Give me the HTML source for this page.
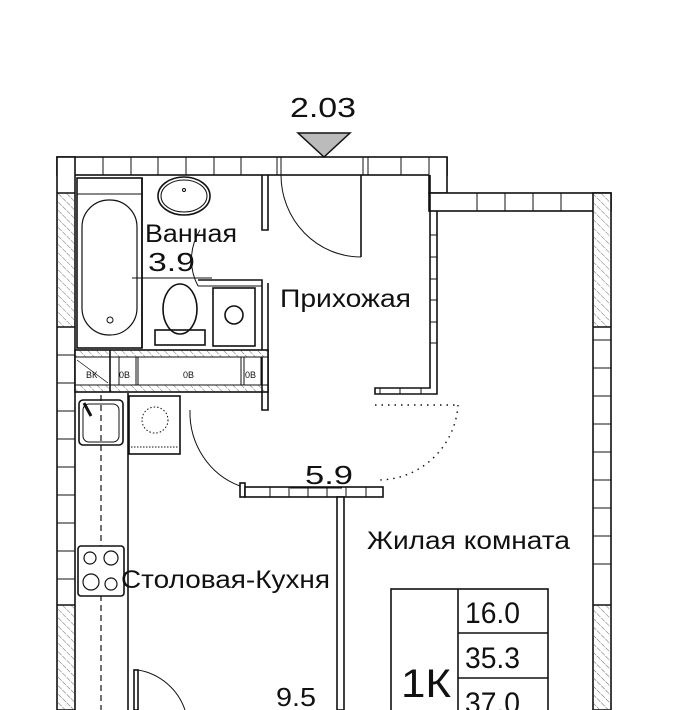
<!DOCTYPE html>
<html><head><meta charset="utf-8"><style>
html,body{margin:0;padding:0;background:#fff;}
svg{display:block;}
text{font-family:"Liberation Sans",sans-serif;fill:#111;}
</style></head><body>
<svg width="681" height="710" viewBox="0 0 681 710" xmlns="http://www.w3.org/2000/svg">
<defs>
<pattern id="h" width="6" height="6" patternUnits="userSpaceOnUse" patternTransform="rotate(-45)">
<line x1="0" y1="0" x2="0" y2="6" stroke="#444" stroke-width="0.8" stroke-dasharray="3 1"/>
</pattern>
</defs>
<g fill="none" stroke="#111" stroke-width="1.6">
<rect x="57" y="157" width="390" height="18" fill="#fff"/>
<g stroke-width="1">
<line x1="103" y1="157" x2="103" y2="175"/><line x1="131" y1="157" x2="131" y2="175"/>
<line x1="158" y1="157" x2="158" y2="175"/><line x1="186" y1="157" x2="186" y2="175"/>
<line x1="214" y1="157" x2="214" y2="175"/><line x1="241" y1="157" x2="241" y2="175"/>
<line x1="277" y1="157" x2="277" y2="175"/><line x1="281" y1="157" x2="281" y2="175"/>
<line x1="363" y1="157" x2="363" y2="175"/><line x1="368" y1="157" x2="368" y2="175"/>
<line x1="401" y1="157" x2="401" y2="175"/><line x1="429" y1="157" x2="429" y2="175"/>
</g>
<path d="M429 175 L429 193 L447 193 L447 157" fill="#fff"/>
<rect x="429" y="193" width="182" height="18" fill="#fff"/>
<g stroke-width="1">
<line x1="477" y1="193" x2="477" y2="211"/><line x1="505" y1="193" x2="505" y2="211"/>
<line x1="533" y1="193" x2="533" y2="211"/><line x1="561" y1="193" x2="561" y2="211"/>
</g>
<rect x="593" y="193" width="18" height="517" fill="#fff"/>
<rect x="594" y="194" width="16" height="133" fill="url(#h)" stroke="none"/>
<line x1="593" y1="327" x2="611" y2="327"/>
<rect x="594" y="605" width="16" height="105" fill="url(#h)" stroke="none"/>
<line x1="593" y1="605" x2="611" y2="605"/>
<g stroke-width="1">
<line x1="593" y1="340" x2="611" y2="340"/><line x1="593" y1="368" x2="611" y2="368"/>
<line x1="593" y1="396" x2="611" y2="396"/><line x1="593" y1="424" x2="611" y2="424"/>
<line x1="593" y1="452" x2="611" y2="452"/><line x1="593" y1="480" x2="611" y2="480"/>
<line x1="593" y1="508" x2="611" y2="508"/><line x1="593" y1="536" x2="611" y2="536"/>
<line x1="593" y1="564" x2="611" y2="564"/>
</g>
<rect x="57" y="157" width="18" height="553" fill="#fff"/>
<rect x="58" y="193" width="16" height="134" fill="url(#h)" stroke="none"/>
<line x1="57" y1="193" x2="75" y2="193"/><line x1="57" y1="327" x2="75" y2="327"/>
<rect x="58" y="605" width="16" height="105" fill="url(#h)" stroke="none"/>
<line x1="57" y1="605" x2="75" y2="605"/>
<g stroke-width="1">
<line x1="57" y1="355" x2="75" y2="355"/><line x1="57" y1="383" x2="75" y2="383"/>
<line x1="57" y1="411" x2="75" y2="411"/><line x1="57" y1="439" x2="75" y2="439"/>
<line x1="57" y1="467" x2="75" y2="467"/><line x1="57" y1="495" x2="75" y2="495"/>
<line x1="57" y1="523" x2="75" y2="523"/><line x1="57" y1="551" x2="75" y2="551"/>
<line x1="57" y1="579" x2="75" y2="579"/>
</g>
<path d="M430 175 L430 388 L375 388 L375 394 L437 394 L437 211"/>
<g stroke-width="1">
<line x1="430" y1="235" x2="437" y2="235"/><line x1="430" y1="257" x2="437" y2="257"/>
<line x1="430" y1="279" x2="437" y2="279"/><line x1="430" y1="300" x2="437" y2="300"/>
<line x1="430" y1="322" x2="437" y2="322"/><line x1="430" y1="343" x2="437" y2="343"/>
<line x1="380" y1="388" x2="380" y2="394"/><line x1="400" y1="388" x2="400" y2="394"/>
<line x1="421" y1="388" x2="421" y2="394"/>
</g>
<line x1="361" y1="175" x2="361" y2="257"/>
<path d="M281 175 A80 82 0 0 0 361 257" stroke-width="1"/>
<path d="M262 175 L262 230 L268 230 L268 175"/>
<path d="M198 280 L262 280 L262 410 L268 410 L268 285 L268 283"/>
<path d="M198 286 L262 286" stroke-width="1"/>
<path d="M200 230 A65 60 0 0 0 198 286" stroke-width="1"/>
<line x1="132" y1="278" x2="212" y2="278" stroke-width="1"/>
<rect x="77" y="178" width="65" height="170"/>
<line x1="77" y1="194" x2="142" y2="194" stroke-width="1"/>
<rect x="82" y="200" width="55" height="135" rx="27" stroke-width="1.2"/>
<circle cx="110" cy="320" r="3" stroke-width="1"/>
<line x1="142" y1="178" x2="142" y2="348"/>
<ellipse cx="184" cy="196" rx="26" ry="19"/>
<ellipse cx="184" cy="196" rx="23" ry="16" stroke-width="1"/>
<circle cx="184" cy="190" r="1.5" stroke-width="1"/>
<ellipse cx="180" cy="309" rx="17" ry="25"/>
<rect x="155" y="330" width="50" height="15"/>
<rect x="213" y="288" width="42" height="58"/>
<circle cx="234" cy="315" r="9"/>
<rect x="75" y="350" width="193" height="42" fill="#fff"/>
<rect x="75" y="350" width="193" height="7" fill="url(#h)" stroke-width="1"/>
<rect x="75" y="385" width="193" height="7" fill="url(#h)" stroke-width="1"/>
<line x1="110" y1="350" x2="110" y2="392"/>
<rect x="119" y="357" width="17" height="28" stroke-width="1"/>
<rect x="138" y="357" width="103" height="28" stroke-width="1"/>
<rect x="244" y="357" width="17" height="28" stroke-width="1"/>
<line x1="262" y1="357" x2="262" y2="392"/>
<line x1="77" y1="360" x2="108" y2="383" stroke-width="0.7"/>
<line x1="128" y1="393" x2="128" y2="710"/>
<line x1="101" y1="395" x2="101" y2="710" stroke-dasharray="6 4" stroke-width="1.2"/>
<rect x="79" y="400" width="44" height="45" rx="4"/>
<rect x="83" y="404" width="36" height="38" rx="6" stroke-width="1"/>
<line x1="84" y1="403" x2="91" y2="416" stroke-width="3"/>
<rect x="129" y="396" width="51" height="58"/>
<circle cx="155" cy="420" r="13" stroke-dasharray="1.5 2" stroke-width="1"/>
<line x1="131" y1="447" x2="178" y2="447" stroke-dasharray="1.5 1.5" stroke-width="1"/>
<rect x="78" y="546" width="46" height="50" rx="3" fill="#fff"/>
<circle cx="90" cy="558" r="6" stroke-width="1.2"/><circle cx="111" cy="558" r="7" stroke-width="1.2"/>
<circle cx="91" cy="582" r="8" stroke-width="1.2"/><circle cx="111" cy="584" r="6" stroke-width="1.2"/>
<path d="M190 410 A75 78 0 0 0 240 486" stroke-width="1"/>
<rect x="240" y="483" width="5" height="14"/>
<rect x="245" y="487" width="138" height="10" fill="#fff"/>
<g stroke-width="1">
<line x1="270" y1="487" x2="270" y2="497"/><line x1="289" y1="487" x2="289" y2="497"/>
<line x1="308" y1="487" x2="308" y2="497"/><line x1="327" y1="487" x2="327" y2="497"/>
<line x1="346" y1="487" x2="346" y2="497"/><line x1="366" y1="487" x2="366" y2="497"/>
</g>
<line x1="290" y1="488" x2="342" y2="488" stroke-width="1"/>
<rect x="337" y="497" width="7" height="213" fill="#fff"/>
<path d="M375 405 L458 405 M458 405 A80 80 0 0 1 378 480" stroke-dasharray="1.5 5" stroke-width="1.4"/>
<rect x="134" y="670" width="4" height="40"/>
<path d="M138 670 A60 60 0 0 1 185 710" stroke-width="1"/>
<rect x="391" y="589" width="157" height="130"/>
<line x1="458" y1="589" x2="458" y2="710"/>
<line x1="458" y1="633" x2="548" y2="633"/>
<line x1="458" y1="678" x2="548" y2="678"/>
</g>
<polygon points="298,133 350,133 324,157" fill="#bbb" stroke="#111" stroke-width="1.5"/>
<g font-size="9" fill="#333">
<text x="86" y="378">ВК</text><text x="119" y="378">0В</text><text x="183" y="378">0В</text><text x="245" y="378">0В</text>
</g>
<text x="290" y="117" font-size="28" textLength="66" lengthAdjust="spacingAndGlyphs">2.03</text>
<text x="145" y="242" font-size="25" textLength="92" lengthAdjust="spacingAndGlyphs">Ванная</text>
<text x="148" y="271" font-size="26" textLength="47" lengthAdjust="spacingAndGlyphs">3.9</text>
<text x="280" y="307" font-size="25" textLength="131" lengthAdjust="spacingAndGlyphs">Прихожая</text>
<text x="305" y="484" font-size="26" textLength="48" lengthAdjust="spacingAndGlyphs">5.9</text>
<text x="367" y="549" font-size="25" textLength="203" lengthAdjust="spacingAndGlyphs">Жилая комната</text>
<text x="121" y="588" font-size="25" textLength="209" lengthAdjust="spacingAndGlyphs">Столовая-Кухня</text>
<text x="276" y="706" font-size="26" textLength="40" lengthAdjust="spacingAndGlyphs">9.5</text>
<text x="401" y="697" font-size="40" textLength="50" lengthAdjust="spacingAndGlyphs">1К</text>
<text x="465" y="623" font-size="30" textLength="55" lengthAdjust="spacingAndGlyphs">16.0</text>
<text x="465" y="668" font-size="30" textLength="55" lengthAdjust="spacingAndGlyphs">35.3</text>
<text x="465" y="713" font-size="30" textLength="55" lengthAdjust="spacingAndGlyphs">37.0</text>
</svg>
</body></html>
